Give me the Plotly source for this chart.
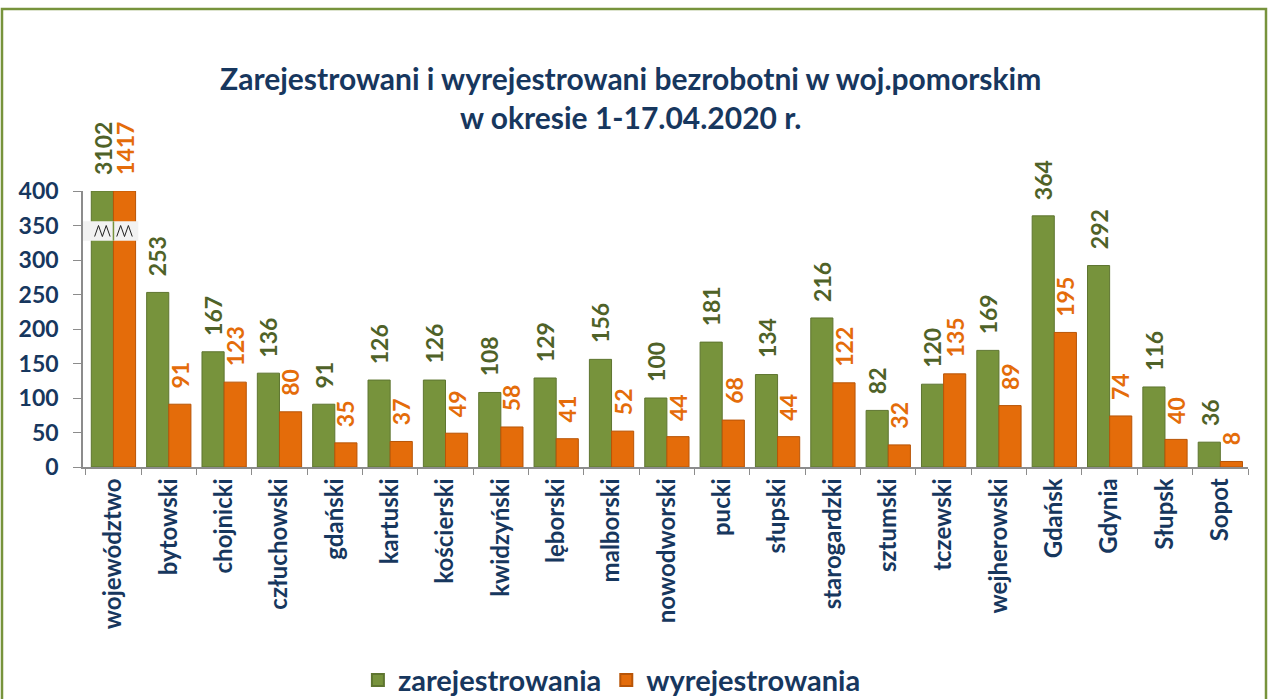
import plotly.graph_objects as go
import numpy as np

categories = ["województwo", "bytowski", "chojnicki", "człuchowski", "gdański", "kartuski",
              "kościerski", "kwidzyński", "lęborski", "malborski", "nowodworski", "pucki",
              "słupski", "starogardzki", "sztumski", "tczewski", "wejherowski", "Gdańsk",
              "Gdynia", "Słupsk", "Sopot"]
zarejestrowania = [3102, 253, 167, 136, 91, 126, 126, 108, 129, 156, 100, 181, 134, 216, 82,
                   120, 169, 364, 292, 116, 36]
wyrejestrowania = [1417, 91, 123, 80, 35, 37, 49, 58, 41, 52, 44, 68, 44, 122, 32, 135, 89,
                   195, 74, 40, 8]
y_ticks = [0, 50, 100, 150, 200, 250, 300, 350, 400]
y_max = 400

FONT = "Lato"
NAVY = "#17375E"
GREEN = "#77933C"
GREEN_TXT = "#4F6228"
ORANGE = "#E46C0A"

# Bar heights capped at the axis break
z_draw = np.minimum(np.array(zarejestrowania), y_max)
w_draw = np.minimum(np.array(wyrejestrowania), y_max)

fig = go.Figure()
fig.add_trace(go.Bar(
    x=categories, y=z_draw, name="zarejestrowania",
    marker=dict(color=GREEN, line=dict(color="#5E7530", width=1)),
    cliponaxis=False, hoverinfo="skip",
))
fig.add_trace(go.Bar(
    x=categories, y=w_draw, name="wyrejestrowania",
    marker=dict(color=ORANGE, line=dict(color="#B85507", width=1)),
    cliponaxis=False, hoverinfo="skip",
))

# value labels above bars (real values, bars capped)
annotations = []
for cat, h, v in zip(categories, z_draw, zarejestrowania):
    annotations.append(dict(x=cat, y=float(h), xref="x", yref="y", text=str(v), showarrow=False,
                            textangle=-90, xanchor="center", yanchor="bottom",
                            xshift=-11, yshift=14,
                            font=dict(family=FONT, size=23, color=GREEN_TXT, weight="bold")))
for cat, h, v in zip(categories, w_draw, wyrejestrowania):
    annotations.append(dict(x=cat, y=float(h), xref="x", yref="y", text=str(v), showarrow=False,
                            textangle=-90, xanchor="center", yanchor="bottom",
                            xshift=11, yshift=14,
                            font=dict(family=FONT, size=23, color=ORANGE, weight="bold")))

shapes = []
# axis break marker on the first category
shapes.append(dict(type="rect", xref="x", yref="y", x0=-0.55, x1=0.45, y0=328, y1=356,
                   fillcolor="#F2F2F2", line=dict(width=0), layer="above"))
for cx in (-0.2, 0.2):
    xs = [cx - 0.14, cx - 0.07, cx, cx + 0.07, cx + 0.14]
    ys = [334, 350, 334, 350, 334]
    path = "M " + " L ".join(f"{a},{b}" for a, b in zip(xs, ys))
    shapes.append(dict(type="path", xref="x", yref="y", path=path,
                       line=dict(color="#222222", width=1), layer="above"))
shapes.append(dict(type="line", xref="x", yref="y", x0=0, x1=0, y0=328, y1=356,
                   line=dict(color=GREEN, width=1.5), layer="above"))
# outer border
shapes.append(dict(type="rect", xref="paper", yref="paper",
                   x0=(2 - 83) / 1165, x1=(1266 - 83) / 1165,
                   y0=(467 - 730) / 276, y1=(467 - 9) / 276,
                   line=dict(color=GREEN, width=2.5), fillcolor="rgba(0,0,0,0)", layer="below"))

fig.update_layout(
    width=1269, height=699,
    margin=dict(l=83, r=21, t=191, b=232, autoexpand=False),
    paper_bgcolor="white", plot_bgcolor="white",
    barmode="group", bargap=0.2, bargroupgap=0.0,
    title=dict(text="Zarejestrowani i wyrejestrowani bezrobotni w woj.pomorskim<br>w okresie 1-17.04.2020 r.",
               x=0.497, xref="container", xanchor="center", y=0.871, yref="container", yanchor="middle",
               font=dict(family=FONT, size=30, color=NAVY, weight="bold")),
    font=dict(family=FONT, color=NAVY),
    showlegend=True,
    legend=dict(orientation="h", x=0.454, xanchor="center", y=-0.772, yanchor="middle",
                font=dict(family=FONT, size=29, color=NAVY, weight="bold"),
                bgcolor="rgba(0,0,0,0)", itemwidth=30,
                itemsizing="constant", traceorder="normal"),
    shapes=shapes,
    annotations=annotations,
)
fig.update_xaxes(showline=True, linecolor="#8C8C8C", linewidth=1.5, ticks="outside",
                 ticklen=6, tickcolor="#8C8C8C", tickson="boundaries", tickangle=-90,
                 tickfont=dict(family=FONT, size=24, color=NAVY, weight="bold"),
                 showgrid=False)
fig.update_yaxes(range=[0, y_max], tickvals=y_ticks, showline=True, linecolor="#8C8C8C",
                 linewidth=1.5, ticks="outside", ticklen=8, tickcolor="#8C8C8C",
                 ticklabelstandoff=10,
                 tickfont=dict(family=FONT, size=23, color=NAVY, weight="bold"),
                 showgrid=False, zeroline=False)

fig.write_html("out.html", config={"displayModeBar": False},
               post_script="document.body.style.margin='0';document.body.style.overflow='hidden';")
